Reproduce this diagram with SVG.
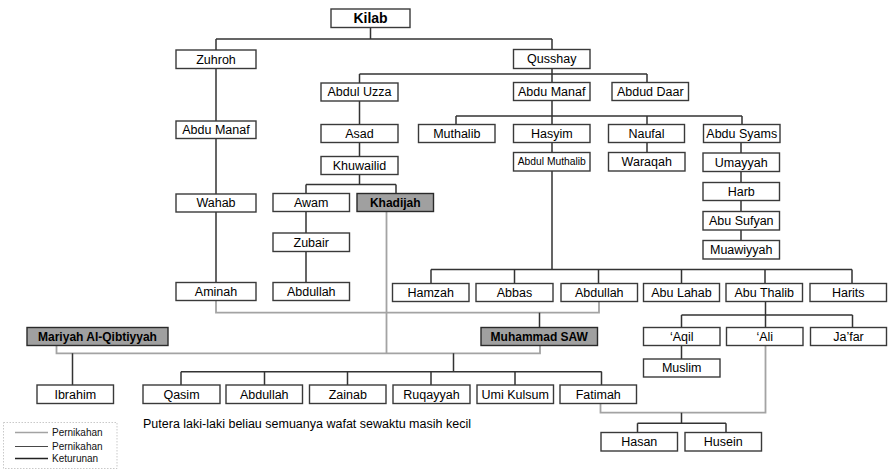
<svg xmlns="http://www.w3.org/2000/svg" width="888" height="469" viewBox="0 0 888 469">
<style>
.b rect{fill:#fff;stroke:#3a3a3a;stroke-width:1.4}
.b.hl rect{fill:#a0a0a0;stroke:#2a2a2a}
.b text{font-family:"Liberation Sans",Arial,sans-serif;font-size:12.5px;fill:#000;text-anchor:middle}
.b.hl text{font-weight:bold;font-size:12px}
.k{stroke:#333;stroke-width:1.5;fill:none}
.m{stroke:#a3a3a3;stroke-width:1.8;fill:none}
.lg text{font-family:"Liberation Sans",Arial,sans-serif;font-size:10px;fill:#111}
</style>
<rect width="888" height="469" fill="#fff"/>
<g id="connectors">
<path class="k" d="M370.5 27.5V39M216 39H552M216 39V50M552 39V49.5"/>
<path class="k" d="M216 68.5V121M216 138.5V194M216 212V282.5"/>
<path class="k" d="M552 68.5V82.5M359.5 74H647M359.5 74V83M647 74V82.5"/>
<path class="k" d="M359.5 101V124.5M359.5 142.5V156.5M359.5 174.5V184.5M306 184.5H396M306 184.5V193.5M396 184.5V193.5"/>
<path class="k" d="M306 211.5V233M306 251.5V282.5"/>
<path class="k" d="M552 100.5V116M456 116H742M456 116V124.5M552 116V124.5M647 116V124.5M742 116V124.5"/>
<path class="k" d="M552 142.5V152.5M647 142.5V152.5M552 171V269.5M431 269.5H852M431 269.5V283.5M514.5 269.5V283.5M598.5 269.5V283.5M681.5 269.5V283.5M765 269.5V283.5M852 269.5V283.5"/>
<path class="k" d="M741 142.5V153M741 171.5V182.5M741 200.5V211.5M741 230V240.5"/>
<path class="k" d="M765.5 301.5V315M681.5 315H852.5M681.5 315V327.5M765.5 315V327.5M852.5 315V327.5M681.5 345.5V359"/>
<path class="m" d="M216 300.5V312.7H599V301.5"/>
<path class="k" d="M539.5 312.7V327.5"/>
<path class="m" d="M386.5 211.5V353.3M56.5 345.5V353.3H540V345.5"/>
<path class="k" d="M72.5 353.3V385M453.5 353.3V371.7M181 371.7H601.7M181 371.7V385M264.5 371.7V385M347.5 371.7V385M431 371.7V385M515 371.7V385M601.5 371.7V385"/>
<path class="m" d="M600.5 403.5V412.7H765.5V345.5"/>
<path class="k" d="M681.5 412.7V423.3M637.5 423.3H726M637.5 423.3V432.5M726 423.3V432.5"/>
</g>
<g id="kilab" class="b"><rect x="331" y="9" width="79" height="18.5"/><text x="370.5" y="23.3" style="font-weight:bold;font-size:14px">Kilab</text></g>
<g id="zuhroh" class="b"><rect x="176" y="50" width="80" height="18.5"/><text x="216" y="63.5">Zuhroh</text></g>
<g id="qusshay" class="b"><rect x="513.5" y="49.5" width="76.5" height="19"/><text x="551.75" y="63.3">Qusshay</text></g>
<g id="abdul-uzza" class="b"><rect x="321" y="83" width="77" height="18"/><text x="359.5" y="96.3">Abdul Uzza</text></g>
<g id="abdu-manaf-r" class="b"><rect x="513.5" y="82.5" width="76.5" height="18"/><text x="551.75" y="95.8">Abdu Manaf</text></g>
<g id="abdud-daar" class="b"><rect x="612" y="82.5" width="76.5" height="18"/><text x="650.25" y="95.8">Abdud Daar</text></g>
<g id="abdu-manaf-l" class="b"><rect x="176" y="121" width="80" height="17.5"/><text x="216" y="134">Abdu Manaf</text></g>
<g id="asad" class="b"><rect x="321" y="124.5" width="77" height="18"/><text x="359.5" y="137.8">Asad</text></g>
<g id="muthalib" class="b"><rect x="418.5" y="124.5" width="76.5" height="18"/><text x="456.75" y="137.8">Muthalib</text></g>
<g id="hasyim" class="b"><rect x="513.5" y="124.5" width="76.5" height="18"/><text x="551.75" y="137.8">Hasyim</text></g>
<g id="naufal" class="b"><rect x="608.5" y="124.5" width="76" height="18"/><text x="646.5" y="137.8">Naufal</text></g>
<g id="abdu-syams" class="b"><rect x="703.5" y="124.5" width="76.5" height="18"/><text x="741.75" y="137.8">Abdu Syams</text></g>
<g id="khuwailid" class="b"><rect x="321" y="156.5" width="77" height="18"/><text x="359.5" y="169.8">Khuwailid</text></g>
<g id="abdul-muthalib" class="b"><rect x="513.5" y="152.5" width="76.5" height="18.5"/><text x="551.75" y="165.4" style="font-size:10.3px">Abdul Muthalib</text></g>
<g id="waraqah" class="b"><rect x="608.5" y="152.5" width="76.5" height="18.5"/><text x="646.75" y="166">Waraqah</text></g>
<g id="umayyah" class="b"><rect x="703" y="153" width="76.5" height="18.5"/><text x="741.25" y="166.5">Umayyah</text></g>
<g id="harb" class="b"><rect x="703" y="182.5" width="76.5" height="18"/><text x="741.25" y="195.8">Harb</text></g>
<g id="abu-sufyan" class="b"><rect x="703" y="211.5" width="76.5" height="18.5"/><text x="741.25" y="225">Abu Sufyan</text></g>
<g id="muawiyyah" class="b"><rect x="703" y="240.5" width="76.5" height="18.5"/><text x="741.25" y="254">Muawiyyah</text></g>
<g id="wahab" class="b"><rect x="176" y="194" width="80" height="18"/><text x="216" y="207.3">Wahab</text></g>
<g id="awam" class="b"><rect x="273" y="193.5" width="76.5" height="18"/><text x="311.25" y="206.8">Awam</text></g>
<g id="khadijah" class="b hl"><rect x="357" y="193.5" width="76.5" height="18"/><text x="395.25" y="206.8">Khadijah</text></g>
<g id="zubair" class="b"><rect x="273" y="233" width="76.5" height="18.5"/><text x="311.25" y="246.5">Zubair</text></g>
<g id="aminah" class="b"><rect x="176" y="282.5" width="80" height="18"/><text x="216" y="295.8">Aminah</text></g>
<g id="abdullah-zubair" class="b"><rect x="273" y="282.5" width="76.5" height="18"/><text x="311.25" y="295.8">Abdullah</text></g>
<g id="hamzah" class="b"><rect x="392.5" y="283.5" width="76.5" height="18"/><text x="430.75" y="296.8">Hamzah</text></g>
<g id="abbas" class="b"><rect x="476" y="283.5" width="77" height="18"/><text x="514.5" y="296.8">Abbas</text></g>
<g id="abdullah" class="b"><rect x="561" y="283.5" width="76.5" height="18"/><text x="599.25" y="296.8">Abdullah</text></g>
<g id="abu-lahab" class="b"><rect x="643.5" y="283.5" width="76" height="18"/><text x="681.5" y="296.8">Abu Lahab</text></g>
<g id="abu-thalib" class="b"><rect x="726" y="283.5" width="76.5" height="18"/><text x="764.25" y="296.8">Abu Thalib</text></g>
<g id="harits" class="b"><rect x="810" y="283.5" width="76.5" height="18"/><text x="848.25" y="296.8">Harits</text></g>
<g id="mariyah" class="b hl"><rect x="27" y="327.5" width="141" height="18"/><text x="97.5" y="340.8">Mariyah Al-Qibtiyyah</text></g>
<g id="muhammad" class="b hl"><rect x="481" y="327.5" width="116.5" height="18"/><text x="539.25" y="340.8">Muhammad SAW</text></g>
<g id="aqil" class="b"><rect x="643.5" y="327.5" width="76.5" height="18"/><text x="681.75" y="340.8">‘Aqil</text></g>
<g id="ali" class="b"><rect x="726.5" y="327.5" width="76.5" height="18"/><text x="764.75" y="340.8">‘Ali</text></g>
<g id="jafar" class="b"><rect x="810.5" y="327.5" width="76" height="18"/><text x="848.5" y="340.8">Ja’far</text></g>
<g id="muslim" class="b"><rect x="643.5" y="359" width="76.5" height="18"/><text x="681.75" y="372.3">Muslim</text></g>
<g id="ibrahim" class="b"><rect x="37" y="385" width="76.5" height="18.5"/><text x="75.25" y="398.5">Ibrahim</text></g>
<g id="qasim" class="b"><rect x="143" y="385" width="77" height="18.5"/><text x="181.5" y="398.5">Qasim</text></g>
<g id="abdullah-2" class="b"><rect x="226" y="385" width="76.5" height="18.5"/><text x="264.25" y="398.5">Abdullah</text></g>
<g id="zainab" class="b"><rect x="309.5" y="385" width="76.5" height="18.5"/><text x="347.75" y="398.5">Zainab</text></g>
<g id="ruqayyah" class="b"><rect x="393" y="385" width="77" height="18.5"/><text x="431.5" y="398.5">Ruqayyah</text></g>
<g id="umi-kulsum" class="b"><rect x="477" y="385" width="76.5" height="18.5"/><text x="515.25" y="398.5">Umi Kulsum</text></g>
<g id="fatimah" class="b"><rect x="560" y="385" width="76.5" height="18.5"/><text x="598.25" y="398.5">Fatimah</text></g>
<g id="hasan" class="b"><rect x="601" y="432.5" width="76.5" height="18.5"/><text x="639.25" y="446">Hasan</text></g>
<g id="husein" class="b"><rect x="685" y="432.5" width="76.5" height="18.5"/><text x="723.25" y="446">Husein</text></g>
<text x="143" y="427.5" font-family="Liberation Sans, Arial, sans-serif" font-size="12.5" fill="#000">Putera laki-laki beliau semuanya wafat sewaktu masih kecil</text>
<g id="legend" class="lg">
<rect x="3.5" y="422.5" width="113.5" height="46" fill="none" stroke="#bbb" stroke-width="0.8" stroke-dasharray="1.5 1.5"/>
<line x1="15" y1="432.5" x2="48" y2="432.5" stroke="#a3a3a3" stroke-width="1.3"/>
<line x1="15" y1="446.5" x2="48" y2="446.5" stroke="#333" stroke-width="0.9"/>
<line x1="15" y1="458.5" x2="48" y2="458.5" stroke="#222" stroke-width="1.3"/>
<text x="52" y="435.8">Pernikahan</text>
<text x="52" y="449.8">Pernikahan</text>
<text x="52" y="461.8">Keturunan</text>
</g>
</svg>
